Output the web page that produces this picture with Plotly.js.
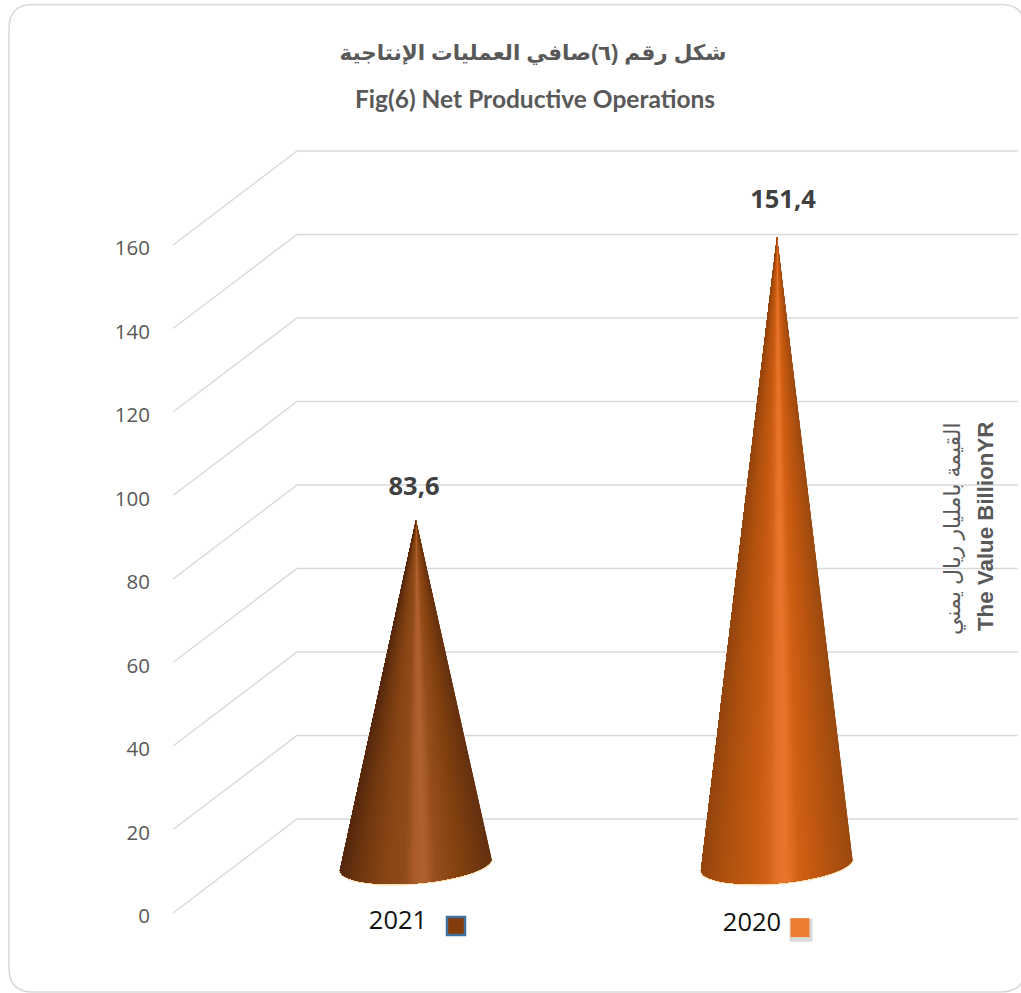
<!DOCTYPE html>
<html>
<head>
<meta charset="utf-8">
<script src="https://cdn.plot.ly/plotly-3.0.1.min.js"></script>
<style>html,body{margin:0;padding:0;background:#fff;overflow:hidden}</style>
</head>
<body>
<div id="chart" style="width:1021px;height:993px"></div>
<script>
// ---- data ----
const years = ['2021', '2020'];
const values = [83.6, 151.4];
const tickValues = [0, 20, 40, 60, 80, 100, 120, 140, 160];
const titleArabic = 'شكل رقم (٦)صافي العمليات الإنتاجية';
const titleEnglish = 'Fig(6) Net Productive Operations';
const axisArabic = 'القيمة بامليار ريال يمني';
const axisEnglish = 'The Value BillionYR';

// ---- styles ----
const shade2021 = [[-1,'#55280e'],[-0.75,'#6f3710'],[-0.4,'#8a4515'],[-0.15,'#8f4b1a'],[-0.02,'#a95c2a'],[0.1,'#b0622f'],[0.28,'#954d1b'],[0.6,'#82400f'],[1,'#643111']];
const shade2020 = [[-1,'#93450f'],[-0.7,'#ae500f'],[-0.3,'#c55a11'],[-0.1,'#d4651b'],[0,'#e5722a'],[0.12,'#e8752a'],[0.3,'#d06013'],[0.6,'#bb5510'],[1,'#9a4a10']];
const shades = [shade2021, shade2020];
const swatchFill = ['#843C0C', '#ED7D31'];
const swatchLine = ['#41719C', '#ED7D31'];
const gridColor = '#d9d9d9';
const textGray = '#595959';
const W = 1021, H = 993;

// projection constants (axis units)
const PX_X = 361, PX_Y = 4.175;
const wallDepthX = 124 / PX_X, wallDepthY = 94 / PX_Y;
const gridLeft = -243 / PX_X, gridRight = 602 / PX_X;
const coneDepth = 10.5, baseV = 11.7;
const coneA = 76 / PX_X, coneTilt = 6 / PX_Y, coneB = 19 / PX_Y;
const labelDx = [-2 / PX_X, 6 / PX_X], labelDy = [7.5, 8.6];
const legendTextDx = [-18 / PX_X, -25 / PX_X], legendV = [-2.4, -2.7];
const swatchDx = [40 / PX_X, 23 / PX_X], swatchV = [-3.1, -3.5];

function hex(c){return [1,3,5].map(i=>parseInt(c.substr(i,2),16));}
function shadeAt(stops,f){
  for(let i=1;i<stops.length;i++){
    if(f<=stops[i][0]){
      const a=stops[i-1],b=stops[i],k=(f-a[0])/(b[0]-a[0]);
      const ca=hex(a[1]),cb=hex(b[1]);
      return 'rgb('+ca.map((v,j)=>Math.round(v+(cb[j]-v)*k)).join(',')+')';
    }
  }
  return stops[stops.length-1][1];
}

const traces = [];

// wall + side gridlines
tickValues.forEach(v=>{
  traces.push({x:[gridLeft,gridLeft+wallDepthX,gridRight],y:[v,v+wallDepthY,v+wallDepthY],
    mode:'lines',line:{color:gridColor,width:1.4},hoverinfo:'skip',showlegend:false});
});

// cones: painter's order, each slice covers all remaining arc so no seams show
const STEPS = 90;
years.forEach((yr,i)=>{
  const tip = values[i] + coneDepth;
  const ax=[],ay=[];
  for(let s=0;s<=STEPS;s++){
    const t=Math.PI*s/STEPS;
    ax.push(i+coneA*Math.cos(t));
    ay.push(baseV+coneTilt*Math.cos(t)-coneB*Math.sin(t));
  }
  traces.push({x:ax,y:ay.map(v=>v-0.22),mode:'lines',line:{color:'#ffdcae',width:1.5},hoverinfo:'skip',showlegend:false});
  for(let s=0;s<STEPS;s++){
    const f=(Math.cos(Math.PI*s/STEPS)+Math.cos(Math.PI*(s+1)/STEPS))/2;
    const c=shadeAt(shades[i],f);
    traces.push({x:[i].concat(ax.slice(s),[i]),y:[tip].concat(ay.slice(s),[tip]),mode:'lines',fill:'toself',
      fillcolor:c,line:{color:c,width:0},hoverinfo:'skip',showlegend:false});
  }
});

// data labels
traces.push({x:years.map((_,i)=>i+labelDx[i]),y:values.map((v,i)=>v+coneDepth+labelDy[i]),
  mode:'text',text:values.map(v=>v.toFixed(1).replace('.',',')),textposition:'middle center',
  textfont:{family:'"Open Sans"',size:25.5,color:'#404040',weight:700},hoverinfo:'skip',showlegend:false});

// legend
traces.push({x:years.map((_,i)=>i+legendTextDx[i]),y:legendV,mode:'text',text:years,textposition:'middle center',
  textfont:{family:'"Open Sans"',size:25.5,color:'#111111'},hoverinfo:'skip',showlegend:false});
traces.push({x:[1+swatchDx[1]+1/PX_X],y:[swatchV[1]-0.6],mode:'markers',
  marker:{symbol:'square',size:23,color:'rgba(120,120,120,0.28)',opacity:1,line:{width:0}},hoverinfo:'skip',showlegend:false});
traces.push({x:years.map((_,i)=>i+swatchDx[i]),y:swatchV,mode:'markers',
  marker:{symbol:'square',size:[18,19],opacity:1,color:swatchFill,line:{color:swatchLine,width:[2.5,0]}},hoverinfo:'skip',showlegend:false});

// frame
const L=9/W,R=1025/W,T=1-4.5/H,B=1-992/H,rx=24/W,ry=24/H;
const framePath=`M ${L} ${T-ry} Q ${L} ${T} ${L+rx} ${T} L ${R-rx} ${T} Q ${R} ${T} ${R} ${T-ry} L ${R} ${B+ry} Q ${R} ${B} ${R-rx} ${B} L ${L+rx} ${B} Q ${L} ${B} ${L} ${B+ry} Z`;

const layout = {
  width:W,height:H,margin:{l:0,r:0,t:0,b:0},paper_bgcolor:'#fff',plot_bgcolor:'rgba(0,0,0,0)',showlegend:false,
  title:{text:'<b>'+titleArabic+'</b>',x:533/W,xanchor:'center',y:1-52/H,yanchor:'middle',xref:'paper',yref:'paper',
    font:{family:'"Liberation Sans","DejaVu Sans"',size:21.5,color:textGray}},
  xaxis:{range:[-416/PX_X,(W-416)/PX_X],visible:false,fixedrange:true},
  yaxis:{range:[-(H-913)/PX_Y,913/PX_Y],anchor:'free',position:173/W,tickmode:'array',tickvals:tickValues,
    ticktext:tickValues.map(String),ticks:'outside',ticklen:19,tickcolor:'rgba(0,0,0,0)',showgrid:false,zeroline:false,showline:false,
    ticklabelshift:3,
    tickfont:{family:'"Open Sans"',size:20.5,color:textGray},fixedrange:true},
  shapes:[{type:'path',xref:'paper',yref:'paper',path:framePath,line:{color:'#d9d9d9',width:1.6},fillcolor:'rgba(0,0,0,0)',layer:'below'}],
  annotations:[
    {text:'<b>'+titleEnglish+'</b>',xref:'paper',yref:'paper',x:535/W,y:1-99/H,xanchor:'center',yanchor:'middle',showarrow:false,
      font:{family:'Lato',size:24.5,color:textGray}},
    {text:axisArabic,xref:'paper',yref:'paper',x:953/W,y:1-529/H,xanchor:'center',yanchor:'middle',textangle:-90,showarrow:false,
      font:{family:'"Liberation Sans","DejaVu Sans"',size:22,color:textGray}},
    {text:'<b>'+axisEnglish+'</b>',xref:'paper',yref:'paper',x:985/W,y:1-527/H,xanchor:'center',yanchor:'middle',textangle:-90,showarrow:false,
      font:{family:'"Liberation Sans"',size:22.3,color:textGray}}
  ]
};
Plotly.newPlot('chart',traces,layout,{displayModeBar:false,staticPlot:true});
</script>
</body>
</html>
